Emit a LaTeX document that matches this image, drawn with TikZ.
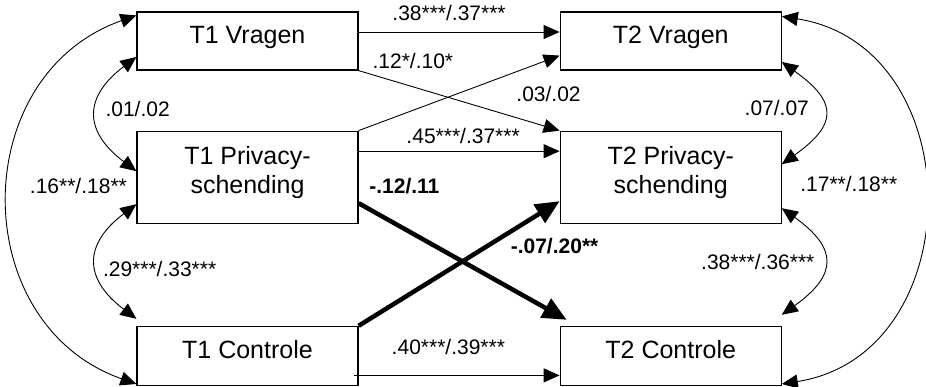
\documentclass[tikz,border=0pt]{standalone}
\usepackage{fontspec}
\setmainfont{Liberation Sans}
\usetikzlibrary{positioning, arrows.meta}

\begin{document}
\begin{tikzpicture}
	[x=1pt, y=1pt, node distance=60pt and 201pt,
	 box/.style={draw, line width=1.2pt, minimum width=221pt, inner sep=0pt,
	   font=\fontsize{25}{29}\selectfont, text height=18pt, text depth=13pt},
	 lbl/.style={font=\fontsize{21}{24}\selectfont, inner sep=0pt},
	 lblb/.style={font=\fontsize{21}{24}\selectfont\bfseries, inner sep=0pt},
	 pth/.style={-{Triangle[length=16pt,width=14pt]}, line width=.9pt},
	 cov/.style={{Triangle[length=16pt,width=14pt]}-{Triangle[length=16pt,width=14pt]}, line width=.9pt},
	 bld/.style={-{Triangle[length=24pt,width=21pt]}, line width=4.5pt}]
   \useasboundingbox (0,0) rectangle (926,386);
   % T1 and T2 measures
   \node[box, minimum height=58pt] (t1v) at (247.5,345) {T1 Vragen};
   \node[box, minimum height=92pt, align=center, text height=47pt, text depth=15pt] (t1p) [below=of t1v] {T1 Privacy-\\schending};
   \node[box, minimum height=59pt] (t1c) [below=102pt of t1p] {T1 Controle};
   \node[box, minimum height=58pt] (t2v) [right=of t1v] {T2 Vragen};
   \node[box, minimum height=92pt, align=center, text height=47pt, text depth=15pt] (t2p) [right=of t1p] {T2 Privacy-\\schending};
   \node[box, minimum height=59pt] (t2c) [right=of t1c] {T2 Controle};
   % stability and cross-lagged paths
   \draw[pth] ([yshift=9pt]t1v.east) -- ([yshift=9pt]t2v.west)
      node[lbl, pos=.45, yshift=19pt] {.38***/.37***};
   \draw[pth] (t1v.south east) -- (t2p.north west)
      node[lbl, pos=.27, yshift=26pt] {.12*/.10*};
   \draw[pth] (t1p.north east) -- ([yshift=15pt]t2v.south west)
      node[lbl, pos=.945, yshift=-34pt] {.03/.02};
   \draw[pth] ([yshift=26pt]t1p.east) -- ([yshift=26pt]t2p.west)
      node[lbl, pos=.52, yshift=15pt] {.45***/.37***};
   \draw[bld] ([yshift=-26pt]t1p.east) -- ([xshift=7pt,yshift=6pt]t2c.north west)
      node[lblb, pos=.22, yshift=43pt] {-.12/.11};
   \draw[bld] (t1c.north east) -- ([yshift=-24pt]t2p.west)
      node[lblb, pos=.975, yshift=-42pt] {-.07/.20**};
   \draw[pth] ([xshift=-5pt,yshift=-19.5pt]t1c.east) -- ([yshift=-19.5pt]t2c.west)
      node[lbl, pos=.46, yshift=28pt] {.40***/.39***};
   % correlations within T1
   \draw[cov] ([yshift=-16pt]t1v.west) .. controls +(-53,-40) and +(-53,40) .. ([yshift=6pt]t1p.west)
      node[lbl, pos=.5, xshift=41pt, yshift=5.5pt] {.01/.02};
   \draw[cov] ([yshift=-27pt]t1p.west) .. controls +(-53,-40) and +(-53,40) .. ([yshift=7pt]t1c.north west)
      node[lbl, pos=.5, xshift=63pt, yshift=-7pt] {.29***/.33***};
   \draw[cov] ([yshift=-4pt]t1v.north west) .. controls +(-170,-60) and +(-170,60) .. ([yshift=2pt]t1c.south west)
      node[lbl, pos=.5, xshift=69.5pt, yshift=13.5pt] {.16**/.18**};
   % correlations within T2
   \draw[cov] ([yshift=-21pt]t2v.east) .. controls +(56,-40) and +(56,40) .. ([yshift=13pt]t2p.east)
      node[lbl, pos=.5, xshift=-47pt, yshift=5.5pt] {.07/.07};
   \draw[cov] ([yshift=-31pt]t2p.east) .. controls +(56,-40) and +(56,40) .. ([yshift=11pt]t2c.north east)
      node[lbl, pos=.5, xshift=-66pt] {.38***/.36***};
   \draw[cov] ([yshift=-5pt]t2v.north east) .. controls +(190,-30) and +(190,30) .. ([yshift=2pt]t2c.south east)
      node[lbl, pos=.5, xshift=-75.5pt, yshift=16pt] {.17**/.18**};
\end{tikzpicture}
\end{document}
